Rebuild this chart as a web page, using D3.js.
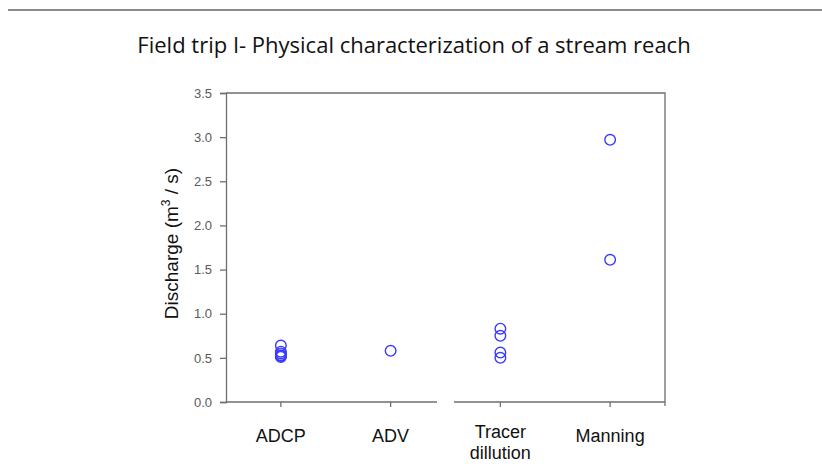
<!DOCTYPE html>
<html>
<head>
<meta charset="utf-8">
<script src="https://cdn.jsdelivr.net/npm/d3@7"></script>
<style>
  body { margin: 0; background: #fff; }
  #chart { width: 822px; height: 466px; }
</style>
</head>
<body>
<div id="chart"></div>
<script>
// categories and discharge values
const methods = ["ADCP", "ADV", "Tracer dillution", "Manning"];
const adcp = [0.64, 0.57, 0.55, 0.53, 0.52, 0.51];
const adv = [0.58];
const tracer = [0.83, 0.75, 0.56, 0.5];
const manning = [2.97, 1.61];
const yTicks = [0, 0.5, 1, 1.5, 2, 2.5, 3, 3.5];

const series = [adcp, adv, tracer, manning];

var width = 822;
var height = 466;
var plotLeft = 226, plotRight = 665, plotTop = 93, plotBottom = 402;

var svg = d3
  .select("#chart")
  .append("svg")
  .attr("width", width)
  .attr("height", height);

/* page rule at the top */
svg
  .append("line")
  .attr("x1", 8)
  .attr("x2", width)
  .attr("y1", 10)
  .attr("y2", 10)
  .attr("stroke", "#8c8c8c")
  .attr("stroke-width", 2);

svg
  .append("text")
  .attr("x", 414)
  .attr("y", 53)
  .attr("text-anchor", "middle")
  .style("font-family", "'Open Sans', sans-serif")
  .style("font-size", "22px")
  .attr("fill", "#111")
  .text("Field trip I- Physical characterization of a stream reach");

/* Scale */
var xScale = d3.scalePoint().domain(methods).range([plotLeft, plotRight]).padding(0.5);
var yScale = d3.scaleLinear().domain([0, 3.5]).range([plotBottom, plotTop]);

var axisColor = "#6e6e6e";
var labelFont = "'Liberation Sans', Arial, sans-serif";

/* frame: top and right lines */
svg
  .append("path")
  .attr("d", `M${plotLeft},${plotTop}H${plotRight}V${plotBottom + 4}`)
  .attr("fill", "none")
  .attr("stroke", axisColor)
  .attr("stroke-width", 1.3);

/* y axis */
var yAxis = d3
  .axisLeft(yScale)
  .tickValues(yTicks)
  .tickFormat(d3.format(".1f"))
  .tickSize(6)
  .tickPadding(8);

var gy = svg.append("g").attr("transform", `translate(${plotLeft},0)`).call(yAxis);
gy.select(".domain").attr("stroke", axisColor).attr("stroke-width", 1.3);
gy.selectAll(".tick line").attr("stroke", axisColor).attr("stroke-width", 1.3);
gy.selectAll(".tick text")
  .attr("fill", "#5a5a5a")
  .style("font-family", labelFont)
  .style("font-size", "13px");

/* x axis with a break between ADV and Tracer */
var breakX = (xScale("ADV") + xScale("Tracer dillution")) / 2;
var gap = 8.5;
[
  [plotLeft, breakX - gap],
  [breakX + gap, plotRight],
].forEach(function (seg) {
  svg
    .append("line")
    .attr("x1", seg[0])
    .attr("x2", seg[1])
    .attr("y1", plotBottom)
    .attr("y2", plotBottom)
    .attr("stroke", axisColor)
    .attr("stroke-width", 1.3);
});

svg
  .selectAll(".xtick")
  .data(methods)
  .enter()
  .append("line")
  .attr("class", "xtick")
  .attr("x1", (d) => xScale(d))
  .attr("x2", (d) => xScale(d))
  .attr("y1", plotBottom)
  .attr("y2", plotBottom + 5)
  .attr("stroke", axisColor)
  .attr("stroke-width", 1.3);

var xLabels = svg
  .selectAll(".xlabel")
  .data(methods)
  .enter()
  .append("text")
  .attr("class", "xlabel")
  .attr("text-anchor", "middle")
  .attr("fill", "#111")
  .style("font-family", labelFont)
  .style("font-size", "18px");

xLabels.each(function (d) {
  var words = d.split(" ");
  var t = d3.select(this);
  var y0 = words.length > 1 ? 438 : 442;
  words.forEach(function (w, i) {
    t.append("tspan")
      .attr("x", xScale(d))
      .attr("y", y0 + i * 21)
      .text(w);
  });
});

/* y axis title */
var yTitle = svg
  .append("text")
  .attr("transform", `translate(178,${(plotTop + plotBottom) / 2 - 4}) rotate(-90)`)
  .attr("text-anchor", "middle")
  .attr("fill", "#111")
  .style("font-family", labelFont)
  .style("font-size", "19px");
yTitle.append("tspan").text("Discharge (m");
yTitle.append("tspan").attr("dy", -8).style("font-size", "12px").text("3");
yTitle.append("tspan").attr("dy", 8).text(" / s)");

/* points */
var pts = [];
series.forEach(function (vals, i) {
  vals.forEach(function (v) {
    pts.push({ method: methods[i], value: v });
  });
});

svg
  .append("g")
  .selectAll("circle")
  .data(pts)
  .enter()
  .append("circle")
  .attr("cx", (d) => xScale(d.method))
  .attr("cy", (d) => yScale(d.value))
  .attr("r", 5.3)
  .attr("fill", "none")
  .attr("stroke", "#3a3aff")
  .attr("stroke-width", 1.4);
</script>
</body>
</html>
